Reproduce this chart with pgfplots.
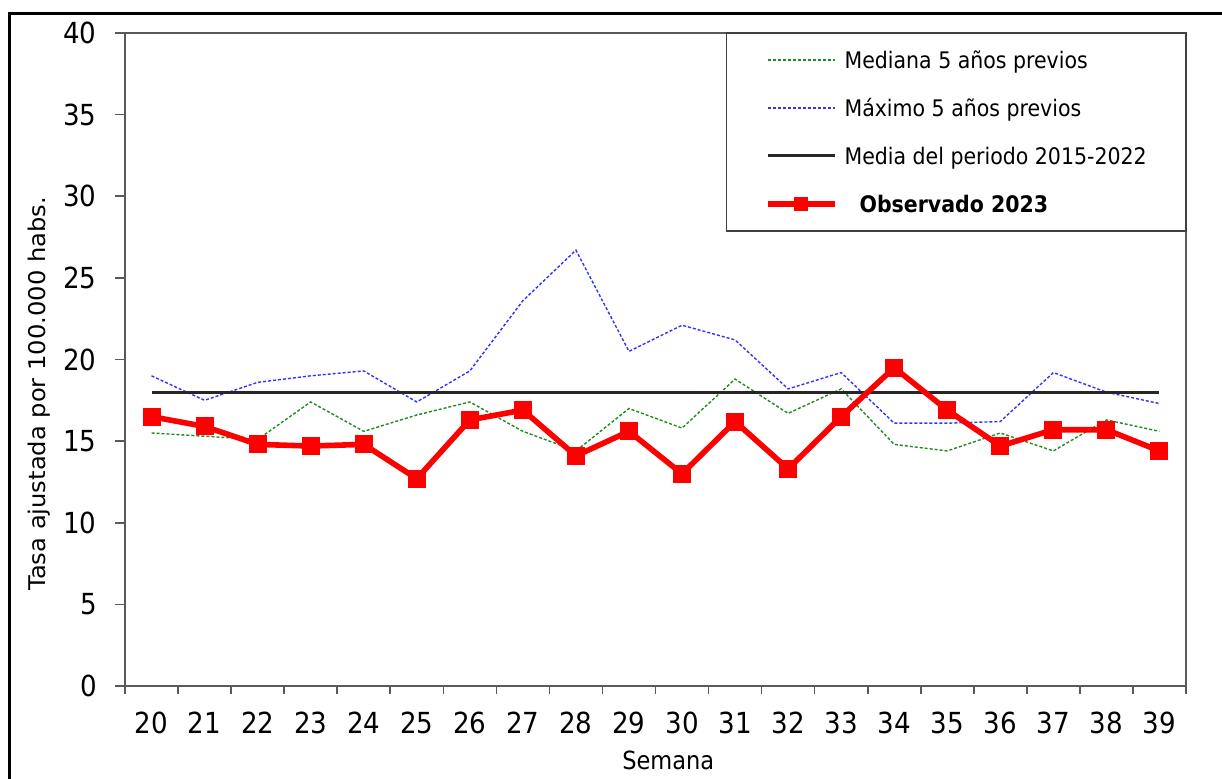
\documentclass[border=0pt]{standalone}
\usepackage{graphicx}
\usepackage{pgfplots}
\pgfplotsset{compat=1.18}
\usepackage{pgfplotstable}
\usepackage{fontspec}
\setmainfont{DejaVu Sans Condensed}

\pgfplotstableread{
sem med max media obs
20 15.5 19.0 18.0 16.5
21 15.3 17.5 18.0 15.9
22 15.1 18.6 18.0 14.8
23 17.4 19.0 18.0 14.7
24 15.6 19.3 18.0 14.8
25 16.6 17.4 18.0 12.7
26 17.4 19.3 18.0 16.3
27 15.6 23.6 18.0 16.9
28 14.4 26.7 18.0 14.1
29 17.0 20.5 18.0 15.6
30 15.8 22.1 18.0 13.0
31 18.8 21.2 18.0 16.2
32 16.7 18.2 18.0 13.3
33 18.2 19.2 18.0 16.5
34 14.8 16.1 18.0 19.5
35 14.4 16.1 18.0 16.9
36 15.5 16.2 18.0 14.7
37 14.4 19.2 18.0 15.7
38 16.3 18.0 18.0 15.7
39 15.6 17.3 18.0 14.4
}\datatable

\definecolor{medgreen}{RGB}{30,140,30}
\definecolor{maxblue}{RGB}{50,50,255}
\definecolor{axgray}{RGB}{90,90,90}

\begin{document}
\begin{tikzpicture}
\begin{axis}[
  scale only axis,
  width=530.5pt, height=326.5pt,
  xmin=19.5, xmax=39.5, ymin=0, ymax=40,
  axis line style={draw=axgray, line width=0.8pt},
  tick style={draw=axgray, line width=0.8pt},
  tick align=outside,
  xtick pos=bottom, ytick pos=left,
  ytick={0,5,...,40},
  xtick={20,...,39},
  minor xtick={19.5,20.5,...,39.5},
  major tick length=5pt,
  minor tick length=4pt,
  major x tick style={draw opacity=0},
  /pgf/number format/assume math mode=true,
  ticklabel style={font=\fontsize{14.5}{16}\selectfont, inner sep=0pt},
  yticklabel style={anchor=east, xshift=-9pt},
  xticklabel style={anchor=north, yshift=-8pt},
  xlabel={Semana},
  ylabel={\scalebox{1.17}[1]{Tasa ajustada por 100.000 habs.}},
  every axis x label/.style={at={(axis description cs:0.512,0)}, yshift=-37pt, anchor=center, font=\fontsize{12.5}{15}\selectfont},
  every axis y label/.style={at={(axis description cs:0,0.448)}, xshift=-43pt, rotate=90, anchor=center, font=\fontsize{11.5}{14}\selectfont},
  legend style={name=leg, at={(rel axis cs:1,1)}, anchor=north east, draw=none, fill=white,
    inner xsep=19pt, inner ysep=9pt, row sep=15.5pt,
    font=\fontsize{11.4}{13}\selectfont,
    nodes={inner sep=0pt, text height=8.5pt, text depth=0pt}},
  legend cell align=left,
  legend image code/.code={\draw[#1,mark size=3.2pt,mark repeat=2,mark phase=2] plot coordinates {(0pt,0pt) (16.75pt,0pt) (33.5pt,0pt)};},
]
\addplot[draw=medgreen, line width=0.7pt, dash pattern=on 1.5pt off 1pt, mark=none] table[x=sem,y=med]{\datatable};
\addlegendentry{\makebox[155pt][l]{\hspace{3.5pt}Mediana 5 años previos}}
\addplot[draw=maxblue, line width=0.7pt, dash pattern=on 1.5pt off 1pt, mark=none] table[x=sem,y=max]{\datatable};
\addlegendentry{\makebox[155pt][l]{\hspace{3.5pt}Máximo 5 años previos}}
\addplot[draw=black!85, line width=1.5pt, mark=none] table[x=sem,y=media]{\datatable};
\addlegendentry{\makebox[155pt][l]{\hspace{3.5pt}Media del periodo 2015-2022}}
\addplot[draw=red, line width=2.8pt, mark=square*, mark size=4.25pt, mark options={solid, fill=red, draw=red, line width=0pt}] table[x=sem,y=obs]{\datatable};
\addlegendentry{\makebox[155pt][l]{\hspace{11pt}\textbf{Observado 2023}}}
\end{axis}
\draw[black!75, line width=0.7pt] (leg.south west) rectangle (leg.north east);
\draw[black, line width=1.5pt] (-57.5pt,-50pt) -- (-57.5pt,336pt) -- (560pt,336pt);
\pgfresetboundingbox
\path[use as bounding box] (-62.5pt,-46pt) rectangle (548.5pt,343pt);
\end{tikzpicture}
\end{document}
